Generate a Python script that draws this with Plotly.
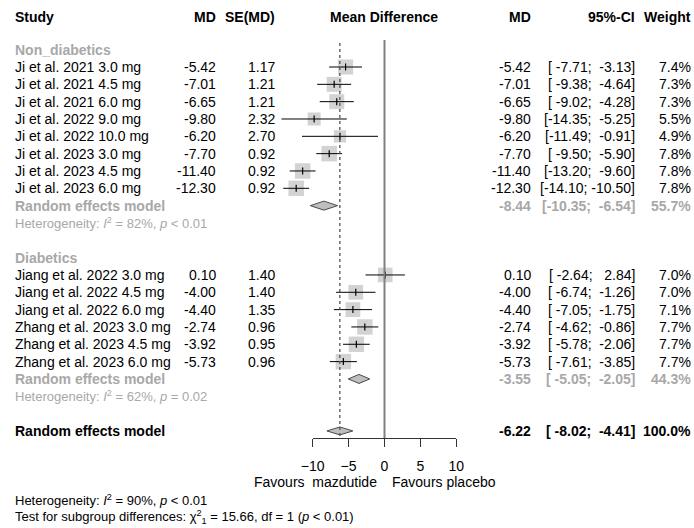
import plotly.graph_objects as go

# ---------------- data ----------------
non_studies = ["Ji et al. 2021 3.0 mg", "Ji et al. 2021 4.5 mg", "Ji et al. 2021 6.0 mg",
               "Ji et al. 2022 9.0 mg", "Ji et al. 2022 10.0 mg", "Ji et al. 2023 3.0 mg",
               "Ji et al. 2023 4.5 mg", "Ji et al. 2023 6.0 mg"]
non_md = [-5.42, -7.01, -6.65, -9.80, -6.20, -7.70, -11.40, -12.30]
non_se = [1.17, 1.21, 1.21, 2.32, 2.70, 0.92, 0.92, 0.92]
non_lo = [-7.71, -9.38, -9.02, -14.35, -11.49, -9.50, -13.20, -14.10]
non_hi = [-3.13, -4.64, -4.28, -5.25, -0.91, -5.90, -9.60, -10.50]
non_w = [7.4, 7.3, 7.3, 5.5, 4.9, 7.8, 7.8, 7.8]
non_re = [-8.44, -10.35, -6.54, 55.7]          # md, lo, hi, weight
non_het = "Heterogeneity: <i>I</i><sup>2</sup> = 82%, <i>p</i> &lt; 0.01"

dia_studies = ["Jiang et al. 2022 3.0 mg", "Jiang et al. 2022 4.5 mg", "Jiang et al. 2022 6.0 mg",
               "Zhang et al. 2023 3.0 mg", "Zhang et al. 2023 4.5 mg", "Zhang et al. 2023 6.0 mg"]
dia_md = [0.10, -4.00, -4.40, -2.74, -3.92, -5.73]
dia_se = [1.40, 1.40, 1.35, 0.96, 0.95, 0.96]
dia_lo = [-2.64, -6.74, -7.05, -4.62, -5.78, -7.61]
dia_hi = [2.84, -1.26, -1.75, -0.86, -2.06, -3.85]
dia_w = [7.0, 7.0, 7.1, 7.7, 7.7, 7.7]
dia_re = [-3.55, -5.05, -2.05, 44.3]
dia_het = "Heterogeneity: <i>I</i><sup>2</sup> = 62%, <i>p</i> = 0.02"

overall_re = [-6.22, -8.02, -4.41, 100.0]
overall_het = "Heterogeneity: <i>I</i><sup>2</sup> = 90%, <i>p</i> &lt; 0.01"
subgroup_test = ("Test for subgroup differences: \u03c7<sup>2</sup><sub>1</sub> = 15.66, df = 1 "
                 "(<i>p</i> &lt; 0.01)")

x_ticks = [-10, -5, 0, 5, 10]
label_left = "Favours\u00a0 mazdutide"
label_right = "Favours placebo"
headers = ["Study", "MD", "SE(MD)", "Mean Difference", "MD", "95%-CI", "Weight"]

# ---------------- layout constants ----------------
W, H = 694, 528
X0_PX, PX_PER_UNIT = 384.5, 7.18      # pixel position of 0 and scale
ROW0_PX, ROW_PX = 67.0, 17.33         # pixel of row 3, row height
FONT = "Liberation Sans, Arial, sans-serif"
GREY = "#a8a8a8"
SQ_COL = "#c0c0c0"
FS = 14
FS_SMALL = 13
NB = "\u00a0"


def px_to_row(p):
    return 3 + (p - ROW0_PX) / ROW_PX


def px_to_val(p):
    return (p - X0_PX) / PX_PER_UNIT


def val_to_paper(v):
    return (X0_PX + v * PX_PER_UNIT) / W


# row positions
header_row = px_to_row(17)
non_label_row = 2
non_rows = list(range(3, 3 + len(non_studies)))
non_re_row = non_rows[-1] + 1
non_het_row = non_re_row + 1
dia_label_row = non_het_row + 2
dia_rows = list(range(dia_label_row + 1, dia_label_row + 1 + len(dia_studies)))
dia_re_row = dia_rows[-1] + 1
dia_het_row = dia_re_row + 1
overall_row = dia_het_row + 2
axis_row = px_to_row(438)

fig = go.Figure()

# squares
all_md = non_md + dia_md
all_lo = non_lo + dia_lo
all_hi = non_hi + dia_hi
all_w = non_w + dia_w
all_rows = non_rows + dia_rows
max_w = max(all_w)
fig.add_trace(go.Scatter(
    x=all_md, y=all_rows, mode="markers",
    marker=dict(symbol="square", color=SQ_COL,
                size=[15.5 * (w / max_w) ** 0.5 for w in all_w], line=dict(width=0)),
    hoverinfo="skip", showlegend=False))

# CI lines + point ticks
fig.add_trace(go.Scatter(
    x=all_md, y=all_rows, mode="markers",
    marker=dict(symbol="line-ns-open", size=5, color="black", line=dict(width=1.2, color="black")),
    error_x=dict(type="data", symmetric=False,
                 array=[h - m for h, m in zip(all_hi, all_md)],
                 arrayminus=[m - l for m, l in zip(all_md, all_lo)],
                 thickness=1, width=0, color="black"),
    hoverinfo="skip", showlegend=False))


# diamonds
def diamond(est, row, h=0.26):
    md, lo, hi, _ = est
    fig.add_trace(go.Scatter(
        x=[lo, md, hi, md, lo], y=[row, row - h, row, row + h, row],
        mode="lines", fill="toself", fillcolor="#bebebe",
        line=dict(color="#4a4a4a", width=1), hoverinfo="skip", showlegend=False))


diamond(non_re, non_re_row)
diamond(dia_re, dia_re_row)
diamond(overall_re, overall_row, h=0.23)

# reference lines
fig.add_shape(type="line", xref="x", yref="y", x0=0, x1=0,
              y0=px_to_row(40), y1=axis_row, line=dict(color="#808080", width=2))
fig.add_shape(type="line", xref="x", yref="y", x0=overall_re[0], x1=overall_re[0],
              y0=px_to_row(43), y1=axis_row, line=dict(color="#555555", width=1.3, dash="dot"))

# dummy trace for visible axis
fig.add_trace(go.Scatter(x=[x_ticks[0], x_ticks[-1]], y=[axis_row, axis_row], xaxis="x2",
                         mode="markers", marker=dict(opacity=0), hoverinfo="skip", showlegend=False))

# ---------------- text ----------------
ann = []


def txt(x_px, row, s, anchor="left", color="black", bold=False, size=FS):
    if bold:
        s = "<b>" + s + "</b>"
    ann.append(dict(x=x_px / W, y=row, xref="paper", yref="y", text=s, showarrow=False,
                    xanchor=anchor, yanchor="middle", borderpad=0,
                    font=dict(family=FONT, size=size, color=color)))


STUDY_X, MD_X, SE_X, MD2_X, CI_X, W_X = 14, 217, 276, 532, 636, 692


def fmt(v):
    return f"{v:.2f}"


def ci_text(lo, hi):
    lo_s = fmt(lo).rjust(6, NB)
    hi_s = fmt(hi).rjust(6, NB)
    return "[" + lo_s + ";" + NB + hi_s + "]"


def data_row(row, name, md, se, lo, hi, w, color="black", bold=False):
    if name is not None:
        txt(STUDY_X, row, name, "left", color, bold)
    if se is not None:
        txt(MD_X, row, fmt(md), "right", color, bold)
        txt(SE_X, row, fmt(se), "right", color, bold)
    txt(MD2_X, row, fmt(md), "right", color, bold)
    txt(CI_X, row, ci_text(lo, hi), "right", color, bold)
    txt(W_X, row, f"{w:.1f}%", "right", color, bold)


# headers
txt(STUDY_X, header_row, headers[0], "left", bold=True)
txt(MD_X, header_row, headers[1], "right", bold=True)
txt(SE_X, header_row, headers[2], "right", bold=True)
txt(X0_PX - 1, header_row, headers[3], "center", bold=True, size=14)
txt(MD2_X, header_row, headers[4], "right", bold=True)
txt(CI_X, header_row, headers[5], "right", bold=True)
txt(W_X, header_row, headers[6], "right", bold=True)

# Non diabetics
txt(STUDY_X, non_label_row, "Non_diabetics", "left", GREY, True)
for r, n, m, s, l, h, w in zip(non_rows, non_studies, non_md, non_se, non_lo, non_hi, non_w):
    data_row(r, n, m, s, l, h, w)
data_row(non_re_row, "Random effects model", non_re[0], None, non_re[1], non_re[2], non_re[3], GREY, True)
txt(STUDY_X, non_het_row, non_het, "left", GREY, size=FS_SMALL)

# Diabetics
txt(STUDY_X, dia_label_row, "Diabetics", "left", GREY, True)
for r, n, m, s, l, h, w in zip(dia_rows, dia_studies, dia_md, dia_se, dia_lo, dia_hi, dia_w):
    data_row(r, n, m, s, l, h, w)
data_row(dia_re_row, "Random effects model", dia_re[0], None, dia_re[1], dia_re[2], dia_re[3], GREY, True)
txt(STUDY_X, dia_het_row, dia_het, "left", GREY, size=FS_SMALL)

# overall
data_row(overall_row, "Random effects model", overall_re[0], None, overall_re[1], overall_re[2],
         overall_re[3], "black", True)

# x labels
fav_row = px_to_row(482)
txt(X0_PX - 7, fav_row, label_left, "right")
txt(X0_PX + 6, fav_row, label_right, "left")

txt(STUDY_X, px_to_row(500), overall_het, "left", size=FS_SMALL)
txt(STUDY_X, px_to_row(517), subgroup_test, "left", size=FS_SMALL)

fig.update_layout(
    template="none",
    width=W, height=H, autosize=False,
    margin=dict(l=0, r=0, t=0, b=0, pad=0, autoexpand=False),
    paper_bgcolor="white", plot_bgcolor="rgba(0,0,0,0)",
    showlegend=False,
    annotations=ann,
    xaxis=dict(domain=[0, 1], range=[px_to_val(0), px_to_val(W)], visible=False,
               fixedrange=True, automargin=False),
    yaxis=dict(domain=[0, 1], range=[px_to_row(H), px_to_row(0)], visible=False,
               fixedrange=True, automargin=False),
    xaxis2=dict(anchor="free", position=1 - 438 / H, automargin=False,
                domain=[val_to_paper(x_ticks[0]), val_to_paper(x_ticks[-1])],
                range=[x_ticks[0], x_ticks[-1]], tickvals=x_ticks,
                showline=True, linecolor="#333333", linewidth=1,
                ticks="outside", ticklen=8, tickcolor="#333333", tickwidth=1,
                ticklabelstandoff=7,
                showgrid=False, zeroline=False, side="bottom",
                tickfont=dict(family=FONT, size=14, color="black"), fixedrange=True),
)

fig.write_html("out.html", config={"displayModeBar": False},
               post_script="document.body.style.margin='0';")
